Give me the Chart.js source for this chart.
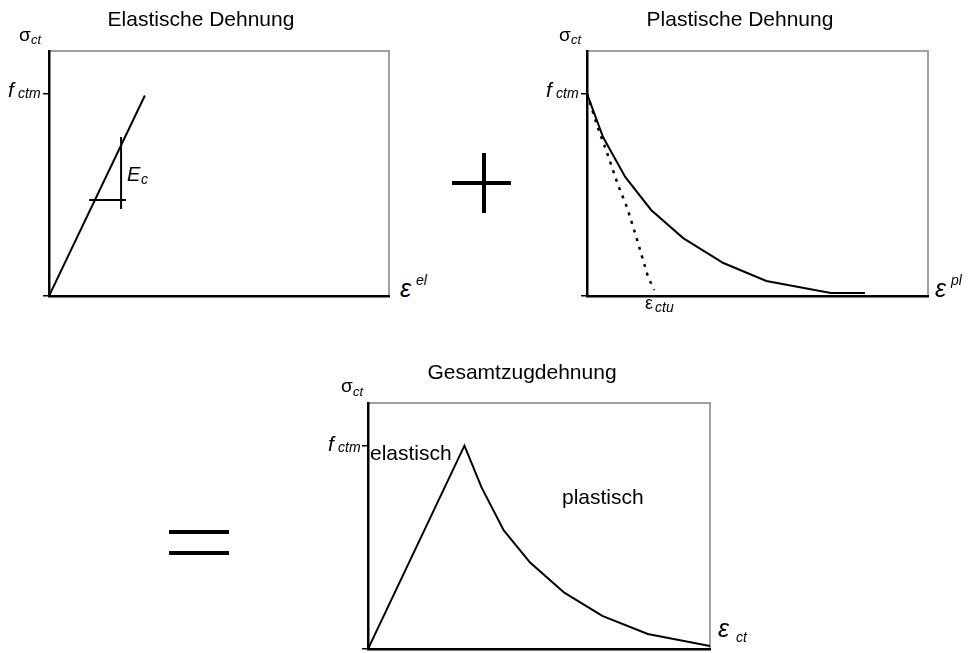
<!DOCTYPE html>
<html lang="de">
<head>
<meta charset="utf-8">
<title>Zugdehnung</title>
<script src="https://cdn.jsdelivr.net/npm/chart.js@4.4.0/dist/chart.umd.min.js"></script>
<style>
  html, body { margin: 0; padding: 0; background: #fff; }
  body { width: 974px; height: 653px; position: relative; overflow: hidden;
         font-family: "Liberation Sans", Arial, sans-serif; color: #000; }
  .box { position: absolute; }
  .lbl { position: absolute; line-height: 1; white-space: nowrap; }
  .bar { position: absolute; background: #000; }
</style>
</head>
<body>
<div class="box" id="box1"><canvas id="elasticChart"></canvas></div>
<div class="box" id="box2"><canvas id="plasticChart"></canvas></div>
<div class="box" id="box3"><canvas id="totalChart"></canvas></div>

<!-- operators between the plots -->
<div class="bar" style="left:452px;top:181px;width:59px;height:4px"></div>
<div class="bar" style="left:482px;top:153px;width:4px;height:60px"></div>
<div class="bar" style="left:169px;top:530px;width:60px;height:4px"></div>
<div class="bar" style="left:169px;top:551px;width:60px;height:4px"></div>

<script>
// axis ranges (fctm = 1.0, strain in arbitrary units)
const Y_MAX = 1.21;
const X_MAX = 10;
const yTickValues = [0, 1.0];

// Elastische Dehnung
const elasticX = [0, 2.82];
const elasticY = [0, 0.99];
const ecHorizX = [1.18, 2.26];
const ecHorizY = [0.474, 0.474];
const ecVertX = [2.12, 2.12];
const ecVertY = [0.785, 0.43];

// Plastische Dehnung
const plasticX = [0, 0.47, 1.12, 1.88, 2.82, 4.0, 5.26, 7.15, 8.15];
const plasticY = [1.0, 0.785, 0.588, 0.425, 0.286, 0.163, 0.074, 0.015, 0.015];
const ctuX = [0, 0.32, 0.56, 0.91, 1.18, 1.47, 1.79, 1.97];
const ctuY = [1.0, 0.83, 0.721, 0.548, 0.435, 0.277, 0.094, 0.03];

// Gesamtzugdehnung
const totalX = [0, 2.82, 3.32, 3.97, 4.74, 5.74, 6.85, 8.18, 10.0];
const totalY = [0, 1.0, 0.795, 0.583, 0.425, 0.277, 0.163, 0.074, 0.015];

// plot areas on the page: left, top, right, bottom
const areas = {
  box1: [49, 51, 389, 296],
  box2: [587, 51, 928, 296],
  box3: [368, 403, 710, 649]
};

const PAD_LEFT = 49, PAD_TOP = 51, PAD_RIGHT = 11, PAD_BOTTOM = 4, TICK_LEN = 6;

function toPoints(xs, ys) {
  return xs.map((x, i) => ({ x, y: ys[i] }));
}

// grey top and right edge of the frame
const frame = {
  id: 'frame',
  beforeDraw(chart) {
    const { ctx, chartArea: a } = chart;
    ctx.save();
    ctx.strokeStyle = '#a0a0a0';
    ctx.lineWidth = 2;
    ctx.beginPath();
    ctx.moveTo(a.left, a.top);
    ctx.lineTo(a.right, a.top);
    ctx.lineTo(a.right, a.bottom);
    ctx.stroke();
    ctx.restore();
  }
};

function makeOptions() {
  return {
    responsive: true,
    maintainAspectRatio: false,
    animation: false,
    events: [],
    layout: { padding: { left: PAD_LEFT - TICK_LEN, top: PAD_TOP, right: PAD_RIGHT, bottom: PAD_BOTTOM } },
    plugins: { legend: { display: false }, tooltip: { enabled: false } },
    elements: {
      point: { radius: 0 },
      line: { borderColor: '#000', borderWidth: 2, tension: 0 }
    },
    scales: {
      x: {
        type: 'linear', min: 0, max: X_MAX,
        grid: { display: false },
        ticks: { display: false },
        border: { color: '#000', width: 2.5 },
        afterFit: s => { s.height = 0; }
      },
      y: {
        type: 'linear', min: 0, max: Y_MAX,
        afterBuildTicks: s => { s.ticks = yTickValues.map(v => ({ value: v })); },
        ticks: { display: false },
        grid: { drawOnChartArea: false, drawTicks: true, tickLength: TICK_LEN, color: '#000', lineWidth: 1.5 },
        border: { color: '#000', width: 2.5 },
        afterFit: s => { s.width = TICK_LEN; }
      }
    }
  };
}

function line(xs, ys, extra) {
  return Object.assign({ data: toPoints(xs, ys), showLine: true, borderColor: '#000', borderWidth: 2, pointRadius: 0 }, extra || {});
}

function placeBox(id) {
  const [l, t, r, b] = areas[id];
  const el = document.getElementById(id);
  el.style.left = (l - PAD_LEFT) + 'px';
  el.style.top = (t - PAD_TOP) + 'px';
  el.style.width = (r - l + PAD_LEFT + PAD_RIGHT) + 'px';
  el.style.height = (b - t + PAD_TOP + PAD_BOTTOM) + 'px';
}

Object.keys(areas).forEach(placeBox);

new Chart(document.getElementById('elasticChart'), {
  type: 'scatter',
  data: { datasets: [line(elasticX, elasticY), line(ecHorizX, ecHorizY), line(ecVertX, ecVertY)] },
  options: makeOptions(),
  plugins: [frame]
});

new Chart(document.getElementById('plasticChart'), {
  type: 'scatter',
  data: { datasets: [line(plasticX, plasticY), line(ctuX, ctuY, { borderDash: [3, 6], borderWidth: 2.5 })] },
  options: makeOptions(),
  plugins: [frame]
});

new Chart(document.getElementById('totalChart'), {
  type: 'scatter',
  data: { datasets: [line(totalX, totalY)] },
  options: makeOptions(),
  plugins: [frame]
});

// text labels: text, x, baseline, size, italic, centred
function addLabel(text, x, baseline, size, italic, center) {
  const d = document.createElement('div');
  d.className = 'lbl';
  d.textContent = text;
  d.style.fontSize = size + 'px';
  d.style.left = x + 'px';
  d.style.top = (baseline - 0.846 * size) + 'px';
  if (italic) d.style.fontStyle = 'italic';
  if (center) d.style.transform = 'translateX(-50%)';
  document.body.appendChild(d);
}

// Elastische Dehnung
addLabel('Elastische Dehnung', 201, 26, 21, false, true);
addLabel('σ', 19, 41, 19);
addLabel('ct', 31, 44, 13, true);
addLabel('f', 8, 97, 21, true);
addLabel('ctm', 18, 98, 14, true);
addLabel('E', 127, 181, 20, true);
addLabel('c', 141, 184, 14, true);
addLabel('ε', 400, 297, 25, true);
addLabel('el', 416, 285, 14, true);

// Plastische Dehnung
addLabel('Plastische Dehnung', 740, 26, 21, false, true);
addLabel('σ', 559, 41, 19);
addLabel('ct', 571, 44, 13, true);
addLabel('f', 546, 97, 21, true);
addLabel('ctm', 556, 98, 14, true);
addLabel('ε', 645, 309, 18);
addLabel('ctu', 655, 312, 14, true);
addLabel('ε', 935, 297, 25, true);
addLabel('pl', 951, 285, 14, true);

// Gesamtzugdehnung
addLabel('Gesamtzugdehnung', 522, 379, 21, false, true);
addLabel('σ', 341, 392, 19);
addLabel('ct', 353, 396, 13, true);
addLabel('f', 328, 451, 21, true);
addLabel('ctm', 338, 452, 14, true);
addLabel('elastisch', 370, 460, 21);
addLabel('plastisch', 562, 504, 21);
addLabel('ε', 718, 637, 25, true);
addLabel('ct', 736, 642, 14, true);
</script>
</body>
</html>
